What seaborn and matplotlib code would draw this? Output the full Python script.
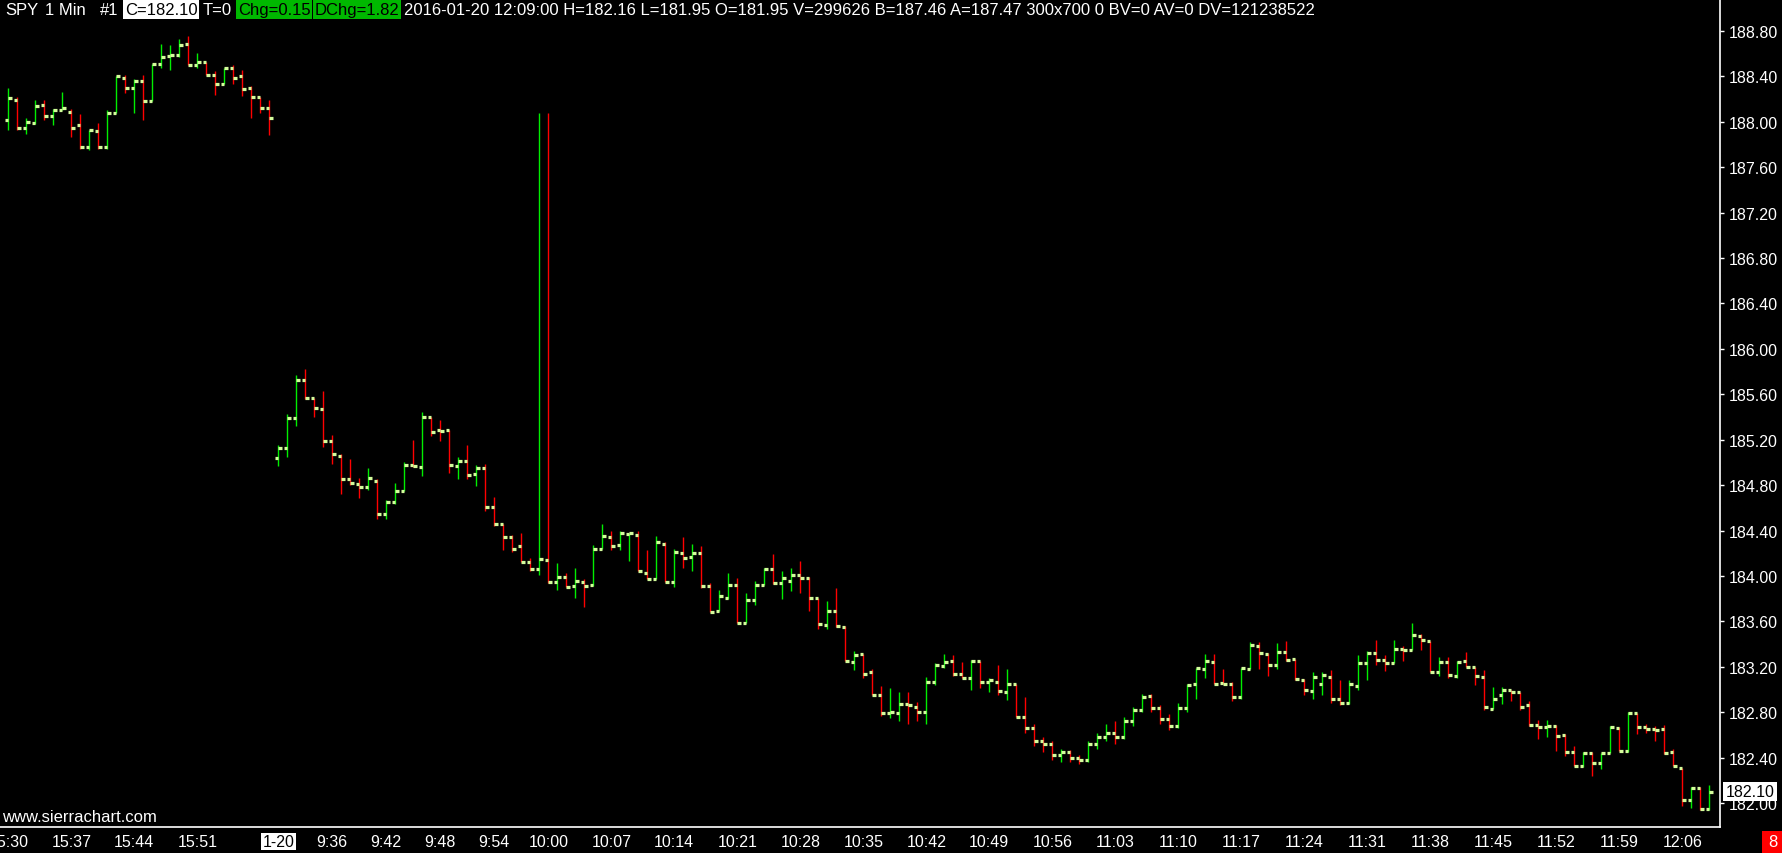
import numpy as np
import pandas as pd
import seaborn as sns
import matplotlib.pyplot as plt
from matplotlib.patches import Rectangle

# SPY 1 min bars, 2016-01-19 15:30 .. 2016-01-20 12:09
opens = [188.02, 188.19, 187.95, 187.99, 188.15, 188.05, 188.10, 188.09, 187.97, 187.78,
         187.92, 187.78, 188.08, 188.39, 188.30, 188.36, 188.18, 188.51, 188.58, 188.59,
         188.69, 188.50, 188.53, 188.41, 188.33, 188.47, 188.40, 188.30, 188.22, 188.12,
         185.04, 185.13, 185.39, 185.73, 185.57, 185.47, 185.19, 185.06, 184.85, 184.81,
         184.78, 184.84, 184.55, 184.65, 184.75, 184.98, 184.96, 185.40, 185.29, 185.29,
         184.97, 185.01, 184.90, 184.95, 184.61, 184.46, 184.34, 184.26, 184.12, 184.06,
         184.14, 183.95, 183.99, 183.91, 183.95, 183.92, 184.24, 184.34, 184.27, 184.37,
         184.36, 184.03, 183.97, 184.28, 183.95, 184.20, 184.17, 184.20, 183.91, 183.69,
         183.81, 183.92, 183.59, 183.79, 183.92, 184.06, 183.94, 183.96, 184.01, 183.98,
         183.81, 183.57, 183.69, 183.55, 183.24, 183.31, 183.15, 182.95, 182.79, 182.79,
         182.87, 182.85, 182.80, 183.07, 183.21, 183.25, 183.14, 183.10, 183.25, 183.07,
         183.07, 182.98, 183.05, 182.76, 182.66, 182.55, 182.52, 182.42, 182.45, 182.40,
         182.38, 182.52, 182.58, 182.62, 182.58, 182.72, 182.82, 182.94, 182.84, 182.74,
         182.68, 182.84, 183.05, 183.18, 183.24, 183.06, 183.05, 182.93, 183.18, 183.38,
         183.31, 183.22, 183.33, 183.27, 183.08, 182.99, 183.05, 183.11, 182.92, 182.88,
         183.03, 183.23, 183.32, 183.26, 183.23, 183.36, 183.35, 183.47, 183.43, 183.15,
         183.24, 183.12, 183.25, 183.20, 183.11, 182.83, 182.95, 183.00, 182.98, 182.86,
         182.69, 182.67, 182.68, 182.60, 182.45, 182.33, 182.44, 182.35, 182.44, 182.66,
         182.46, 182.79, 182.67, 182.65, 182.65, 182.45, 182.31, 182.03, 182.13, 181.95]

highs = [188.30, 188.22, 188.03, 188.19, 188.19, 188.11, 188.26, 188.11, 188.07, 187.93,
         187.99, 188.10, 188.40, 188.41, 188.38, 188.41, 188.51, 188.69, 188.68, 188.73,
         188.76, 188.61, 188.53, 188.45, 188.47, 188.50, 188.46, 188.32, 188.22, 188.19,
         185.15, 185.43, 185.77, 185.82, 185.57, 185.63, 185.24, 185.07, 185.03, 184.86,
         184.95, 184.85, 184.67, 184.82, 185.00, 185.20, 185.44, 185.40, 185.37, 185.29,
         185.05, 185.15, 184.98, 184.99, 184.70, 184.46, 184.36, 184.38, 184.16, 188.08,
         188.08, 184.11, 184.03, 184.07, 183.97, 184.27, 184.46, 184.40, 184.40, 184.38,
         184.40, 184.23, 184.35, 184.30, 184.24, 184.34, 184.28, 184.26, 183.94, 183.88,
         184.03, 183.98, 183.85, 183.96, 184.07, 184.19, 184.04, 184.07, 184.13, 183.99,
         183.81, 183.78, 183.89, 183.56, 183.34, 183.31, 183.18, 183.03, 183.01, 182.98,
         182.98, 182.89, 183.11, 183.23, 183.31, 183.30, 183.24, 183.26, 183.25, 183.10,
         183.22, 183.18, 183.05, 182.93, 182.70, 182.58, 182.55, 182.48, 182.47, 182.42,
         182.55, 182.62, 182.70, 182.72, 182.76, 182.85, 182.96, 182.96, 182.86, 182.78,
         182.88, 183.05, 183.19, 183.31, 183.31, 183.18, 183.07, 183.19, 183.42, 183.42,
         183.32, 183.41, 183.43, 183.27, 183.09, 183.15, 183.15, 183.17, 183.08, 183.08,
         183.30, 183.34, 183.44, 183.30, 183.44, 183.38, 183.59, 183.49, 183.43, 183.29,
         183.29, 183.25, 183.33, 183.20, 183.17, 183.02, 183.02, 183.00, 182.98, 182.90,
         182.73, 182.73, 182.69, 182.61, 182.50, 182.45, 182.45, 182.44, 182.68, 182.67,
         182.80, 182.79, 182.70, 182.68, 182.69, 182.48, 182.31, 182.14, 182.14, 182.16]

lows = [187.93, 187.93, 187.89, 187.98, 188.02, 187.97, 188.10, 187.87, 187.76, 187.75,
        187.76, 187.76, 188.08, 188.25, 188.08, 188.02, 188.18, 188.47, 188.46, 188.57,
        188.50, 188.47, 188.41, 188.24, 188.33, 188.33, 188.23, 188.03, 188.08, 187.88,
        184.97, 185.05, 185.32, 185.56, 185.40, 185.14, 184.99, 184.72, 184.80, 184.69,
        184.76, 184.50, 184.50, 184.63, 184.75, 184.96, 184.88, 185.23, 185.19, 184.91,
        184.85, 184.85, 184.79, 184.57, 184.44, 184.23, 184.21, 184.12, 184.04, 184.01,
        183.94, 183.88, 183.90, 183.81, 183.73, 183.91, 184.24, 184.23, 184.23, 184.13,
        184.04, 183.97, 183.97, 183.95, 183.90, 184.07, 184.04, 183.89, 183.68, 183.69,
        183.80, 183.59, 183.59, 183.74, 183.92, 183.93, 183.80, 183.87, 183.85, 183.69,
        183.53, 183.53, 183.55, 183.25, 183.17, 183.10, 182.95, 182.77, 182.75, 182.72,
        182.70, 182.72, 182.70, 183.04, 183.19, 183.12, 183.10, 183.00, 183.01, 182.98,
        182.95, 182.91, 182.76, 182.62, 182.50, 182.45, 182.38, 182.36, 182.36, 182.34,
        182.36, 182.48, 182.55, 182.52, 182.56, 182.68, 182.80, 182.80, 182.70, 182.64,
        182.66, 182.80, 182.92, 183.10, 183.05, 183.05, 182.90, 182.92, 183.18, 183.18,
        183.12, 183.18, 183.25, 183.08, 182.95, 182.92, 182.95, 182.88, 182.86, 182.87,
        183.00, 183.08, 183.22, 183.16, 183.23, 183.25, 183.35, 183.35, 183.15, 183.12,
        183.10, 183.10, 183.20, 183.04, 182.82, 182.83, 182.87, 182.90, 182.82, 182.68,
        182.56, 182.58, 182.46, 182.41, 182.33, 182.32, 182.24, 182.30, 182.44, 182.46,
        182.45, 182.61, 182.62, 182.55, 182.43, 182.33, 181.97, 181.96, 181.94, 181.94]

closes = [188.21, 187.95, 188.00, 188.14, 188.05, 188.10, 188.12, 187.95, 187.78, 187.93,
          187.78, 188.08, 188.40, 188.30, 188.36, 188.18, 188.51, 188.57, 188.59, 188.68,
          188.50, 188.53, 188.41, 188.33, 188.47, 188.39, 188.29, 188.22, 188.12, 188.03,
          185.13, 185.39, 185.73, 185.57, 185.48, 185.19, 185.07, 184.85, 184.82, 184.78,
          184.86, 184.55, 184.65, 184.75, 184.98, 184.97, 185.40, 185.27, 185.28, 184.98,
          185.01, 184.89, 184.95, 184.61, 184.46, 184.34, 184.24, 184.12, 184.06, 184.15,
          183.95, 183.99, 183.90, 183.96, 183.91, 184.24, 184.35, 184.26, 184.38, 184.38,
          184.04, 183.97, 184.30, 183.95, 184.21, 184.16, 184.20, 183.91, 183.68, 183.82,
          183.92, 183.59, 183.79, 183.92, 184.06, 183.94, 183.98, 184.01, 183.98, 183.81,
          183.58, 183.69, 183.56, 183.25, 183.30, 183.14, 182.95, 182.79, 182.80, 182.87,
          182.86, 182.80, 183.07, 183.22, 183.24, 183.14, 183.10, 183.25, 183.07, 183.08,
          182.99, 183.05, 182.76, 182.66, 182.55, 182.52, 182.42, 182.45, 182.40, 182.38,
          182.52, 182.58, 182.62, 182.58, 182.72, 182.82, 182.93, 182.84, 182.74, 182.68,
          182.84, 183.04, 183.19, 183.25, 183.05, 183.05, 182.93, 183.19, 183.39, 183.32,
          183.22, 183.33, 183.26, 183.09, 183.00, 183.11, 183.13, 182.92, 182.88, 183.05,
          183.23, 183.32, 183.26, 183.23, 183.36, 183.35, 183.48, 183.44, 183.15, 183.24,
          183.13, 183.24, 183.20, 183.12, 182.85, 182.92, 183.00, 182.98, 182.85, 182.69,
          182.67, 182.68, 182.59, 182.45, 182.33, 182.44, 182.35, 182.44, 182.67, 182.46,
          182.79, 182.67, 182.65, 182.64, 182.44, 182.33, 182.03, 182.13, 181.95, 182.10]

tick_bars = [0, 7, 14, 21, 30, 36, 42, 48, 54, 60, 67, 74, 81, 88, 95, 102, 109,
             116, 123, 130, 137, 144, 151, 158, 165, 172, 179, 186]
tick_labels = ["15:30", "15:37", "15:44", "15:51", "1-20", "9:36", "9:42", "9:48",
               "9:54", "10:00", "10:07", "10:14", "10:21", "10:28", "10:35", "10:42",
               "10:49", "10:56", "11:03", "11:10", "11:17", "11:24", "11:31", "11:38",
               "11:45", "11:52", "11:59", "12:06"]
price_ticks = [182.00, 182.40, 182.80, 183.20, 183.60, 184.00, 184.40, 184.80, 185.20,
               185.60, 186.00, 186.40, 186.80, 187.20, 187.60, 188.00, 188.40, 188.80]
last_price = 182.10

header = [("SPY", 5, None), ("1 Min", 45, None), ("#1", 100, None),
          ("C=182.10", 125, "white"), ("T=0", 203, None),
          ("Chg=0.15", 238, "#00b800"), ("DChg=1.82", 315, "#00b800"),
          ("2016-01-20 12:09:00 H=182.16 L=181.95 O=181.95 V=299626 B=187.46 "
           "A=187.47 300x700 0 BV=0 AV=0 DV=121238522", 404, None)]

UP = "#00ee00"
DOWN = "#ff0000"
TICK = "#d4fc9c"
W, H = 1783, 854

sns.set_theme(style="dark", rc={"axes.facecolor": "black", "figure.facecolor": "black"})
plt.rcParams['font.family'] = ['Liberation Sans', 'DejaVu Sans']

df = pd.DataFrame({"bar": np.arange(len(closes)), "open": opens, "high": highs,
                   "low": lows, "close": closes})
df["up"] = df["close"] > df["open"]

fig = plt.figure(figsize=(W / 100, H / 100), dpi=100)
ax = fig.add_axes([0, 26 / H, 1720 / W, 828 / H])

# bars: high-low line, open tick left, close tick right
ax.vlines(df["bar"], df["low"], df["high"],
          colors=np.where(df["up"], UP, DOWN), lw=1.0)
ax.hlines(df["open"], df["bar"] - 0.42, df["bar"], color=TICK, lw=2.3, capstyle="butt")
ax.hlines(df["close"], df["bar"], df["bar"] + 0.42, color=TICK, lw=2.3, capstyle="butt")

ax.set_xlim(-0.92, 190.19)
ax.set_ylim(181.789, 189.082)
ax.grid(False)

ax.set_xticks(tick_bars)
ax.set_xticklabels(tick_labels)
ax.set_yticks(price_ticks)
ax.set_yticklabels([f"{p:.2f}" for p in price_ticks])
ax.yaxis.tick_right()
ax.tick_params(axis="both", colors="white", labelcolor="white", labelsize=11.5,
               length=3, width=1, direction="out", pad=2)
ax.tick_params(axis="y", pad=3)
for s in ["top", "left"]:
    ax.spines[s].set_visible(False)
for s in ["right", "bottom"]:
    ax.spines[s].set_color("white")
    ax.spines[s].set_linewidth(1.2)

# date label for the new session
lab = ax.get_xticklabels()[tick_labels.index("1-20")]
lab.set_color("black")
lab.set_bbox(dict(facecolor="white", edgecolor="none", pad=1))

# last price marker on the scale
ax.annotate(f"{last_price:.2f}", xy=(1, last_price), xycoords=("axes fraction", "data"),
            xytext=(4, 0), textcoords="offset points", va="center", ha="left",
            color="black", fontsize=11.5,
            bbox=dict(facecolor="white", edgecolor="none", pad=1.5))

# header line
for txt, x0, box in header:
    if box is not None:
        fig.text(x0 / W, 1 - 10.5 / H, txt, color="black", fontsize=12, va="center",
                 bbox=dict(facecolor=box, edgecolor="none", pad=1.2))
    else:
        fig.text(x0 / W, 1 - 10.5 / H, txt, color="white", fontsize=12, va="center")

fig.text(2 / W, 1 - 818 / H, "www.sierrachart.com", color="white", fontsize=12, va="center")

fig.add_artist(Rectangle((1762 / W, 0), 21 / W, 22 / H, transform=fig.transFigure,
                         facecolor="#ff0000", edgecolor="none"))
fig.text(1772.5 / W, 11 / H, "8", color="white", fontsize=12, ha="center", va="center")

fig.savefig("out.png", dpi=100, facecolor="black")
